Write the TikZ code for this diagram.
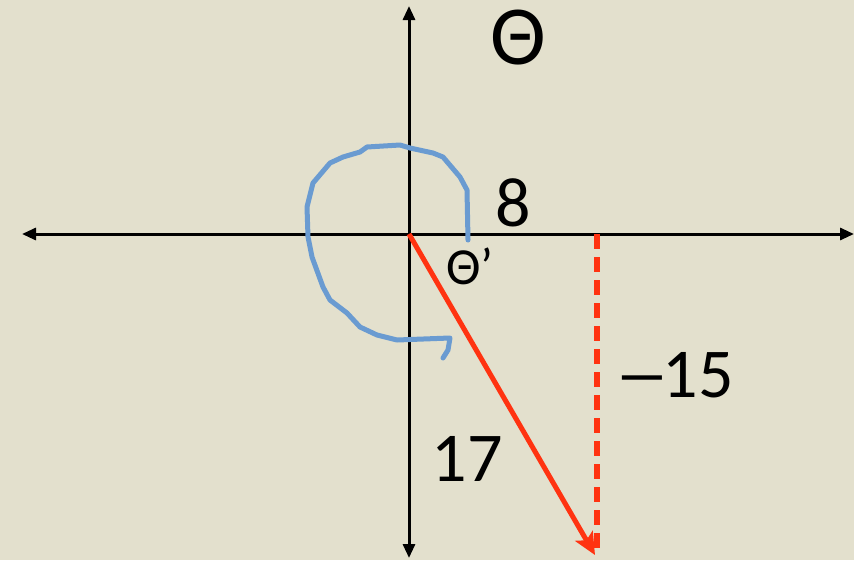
\documentclass[tikz,border=0pt]{standalone}
\usepackage{fontspec}
\setmainfont{Carlito}
\usetikzlibrary{arrows.meta}
\definecolor{bg}{HTML}{E3E0CD}
\definecolor{myblue}{HTML}{6A9BD1}
\definecolor{myred}{HTML}{FF3311}
\begin{document}
\begin{tikzpicture}[x=1pt,y=-1pt,
  axis/.style={line width=3pt,-{Triangle[length=14pt,width=12pt]}},
  lbl/.style={inner sep=0pt,text=black}]
\fill[bg] (0,0) rectangle (854,560);
\useasboundingbox (0,0) rectangle (854,560);
\coordinate (O) at (409,234);
\coordinate (top) at (409,6);
\coordinate (bot) at (409,558);
\coordinate (left) at (22,234);
\coordinate (right) at (854,234);
\coordinate (P) at (597,234);
\coordinate (Q) at (597,555);
\coordinate (R) at (595,555);
\draw[axis] (O) -- (top);
\draw[axis] (O) -- (bot);
\draw[axis] (O) -- (left);
\draw[axis] (O) -- (right);
\draw[myblue,line width=5pt,line join=round,line cap=round]
 (468,240) -- (467,190) -- (460,177) -- (443,157) -- (433,153) -- (410,148) -- (400,145) -- (367,147) -- (360,152) -- (343,157) -- (330,163) -- (313,183) -- (307,207) -- (308,237) -- (312,257) -- (323,287) -- (330,300) -- (347,313) -- (360,327) -- (377,335) -- (397,340) -- (450,338) -- (448,350) -- (443,358);
\draw[myred,line width=5.5pt,dash pattern=on 15pt off 8pt] (P) -- (Q);
\draw[myred,line width=5pt,-{Stealth[length=22pt,width=20pt,inset=5pt]}] (O) -- (R);
\node[lbl,font=\fontsize{84}{84}\selectfont] (theta) at (518,38) {Θ};
\node[lbl,font=\fontsize{70}{70}\selectfont] (eight) at (513,203) {8};
\node[lbl,font=\fontsize{52}{52}\selectfont] (thetap) at (470,266) {Θ’};
\node[lbl,font=\fontsize{70}{70}\selectfont] (m15) at (674,375) {\scalebox{1.6}[1]{–}\kern-7pt15};
\node[lbl,font=\fontsize{70}{70}\selectfont] (n17) at (467,459) {17};
\end{tikzpicture}
\end{document}
